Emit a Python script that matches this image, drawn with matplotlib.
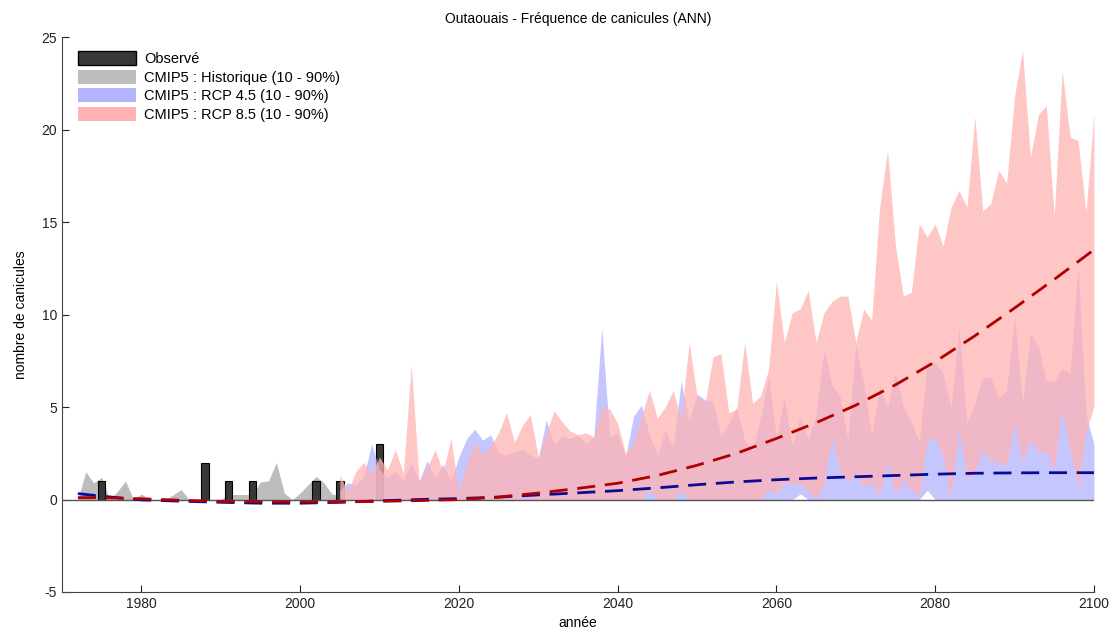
import numpy as np
import matplotlib.pyplot as plt
from matplotlib.patches import Patch

plt.rcParams['font.family'] = ['Liberation Sans', 'DejaVu Sans']
plt.rcParams['axes.unicode_minus'] = False

# -----------------------------
# data
# -----------------------------
obs_years = [1975, 1988, 1991, 1994, 2002, 2005, 2010]
obs_vals = [1, 2, 1, 1, 1, 1, 3]

hist_years = np.arange(1972, 2006)
hist_hi = [0, 1.5, 0.9, 1.2, 0, 0.45, 1.0, 0, 0.3, 0,
           0, 0, 0.25, 0.55, 0, 0, 0, 0, 0, 0.27,
           0.27, 0.27, 0.27, 0.95, 1.0, 2.0, 0.35, 0, 0.35, 0.8,
           1.25, 0.9, 0.3, 0.2]
hist_lo = [0] * len(hist_hi)

rcp_years = np.arange(2005, 2101)
rcp45_hi = [0.5, 0.9, 0.8, 1.2, 3.0, 1.6, 1.2, 1.5, 1.0, 2.0,
            1.0, 2.1, 1.2, 1.9, 1.0, 2.3, 3.3, 3.8, 3.2, 3.5,
            2.5, 2.4, 2.6, 2.7, 2.4, 2.2, 4.3, 3.0, 3.4, 3.3,
            3.5, 3.0, 3.4, 9.3, 3.4, 3.6, 2.3, 4.5, 5.1, 3.5,
            2.4, 3.8, 2.8, 6.4, 4.2, 5.7, 5.4, 5.3, 3.4, 4.1,
            5.0, 3.2, 2.6, 4.4, 6.7, 3.3, 5.5, 2.9, 4.5, 3.2,
            4.6, 8.1, 6.2, 5.6, 3.2, 8.4, 6.3, 3.5, 6.1, 5.0,
            6.9, 5.0, 4.2, 3.1, 7.4, 7.4, 6.8, 5.0, 9.3, 4.1,
            5.2, 6.6, 6.6, 5.5, 5.9, 9.9, 5.2, 9.0, 8.3, 6.4,
            6.4, 7.1, 6.8, 12.6, 4.6, 3.0]
rcp45_lo = [0] * 58 + [0.3] + [0] * 15 + [0.5] + [0] * 21

rcp85_hi = [1.35, 0.4, 1.5, 2.0, 1.4, 2.3, 1.6, 2.7, 1.4, 7.3,
            1.0, 1.7, 2.7, 1.5, 3.3, 0.4, 2.0, 3.1, 2.4, 2.9,
            3.6, 4.7, 3.1, 4.0, 4.6, 2.3, 3.6, 4.8, 4.2, 3.7,
            3.5, 3.6, 3.4, 5.0, 4.9, 4.1, 2.5, 3.0, 4.5, 5.9,
            4.4, 5.0, 5.9, 4.3, 8.5, 5.6, 5.2, 7.7, 7.9, 4.7,
            4.9, 8.5, 5.2, 5.6, 7.0, 11.8, 8.5, 10.1, 10.3, 11.3,
            8.5, 10.1, 10.7, 11.0, 11.0, 8.5, 10.3, 9.7, 15.8, 18.9,
            13.7, 11.0, 11.2, 14.9, 14.2, 14.9, 13.7, 15.8, 16.7, 15.8,
            20.7, 15.6, 16.0, 17.8, 17.1, 21.8, 24.3, 18.5, 20.8, 21.3,
            15.3, 23.2, 19.6, 19.4, 15.5, 20.9]
rcp85_lo = [0, 0, 0, 0, 0, 0, 0, 0, 0, 0,
            0, 0, 0, 0, 0, 0, 0, 0, 0, 0,
            0, 0, 0, 0, 0, 0, 0, 0, 0, 0,
            0, 0, 0, 0, 0, 0, 0, 0, 0, 0.5,
            0, 0, 0, 0.5, 0, 0, 0, 0, 0, 0,
            0, 0, 0, 0, 0.5, 0.3, 0.9, 0.8, 0.9, 0.4,
            0, 0.8, 3.4, 1.5, 1.0, 1.3, 0.7, 0.9, 0.2, 2.1,
            0.2, 1.1, 0.5, 0.2, 3.2, 3.3, 2.3, 0.1, 3.9, 1.1,
            1.5, 2.7, 2.0, 2.1, 1.8, 4.1, 2.0, 3.3, 2.5, 2.6,
            1.6, 4.9, 2.7, 0.6, 3.7, 5.0]

trend_years = [1972, 1975, 1980, 1985, 1990, 1995, 2000, 2005, 2010, 2015,
               2020, 2025, 2030, 2035, 2040, 2045, 2050, 2055, 2060, 2065,
               2070, 2075, 2080, 2085, 2090, 2095, 2100]
trend45 = [0.32, 0.18, -0.02, -0.09, -0.15, -0.2, -0.2, -0.15, -0.07, 0.0,
           0.05, 0.13, 0.25, 0.36, 0.48, 0.63, 0.8, 0.95, 1.07, 1.16,
           1.23, 1.3, 1.37, 1.42, 1.44, 1.45, 1.45]
trend85 = [0.1, 0.1, 0.04, -0.04, -0.1, -0.12, -0.13, -0.13, -0.1, -0.06,
           0.0, 0.13, 0.35, 0.6, 0.88, 1.3, 1.85, 2.5, 3.3, 4.15,
           5.1, 6.2, 7.45, 8.85, 10.35, 11.9, 13.5]

c_obs = '#383838'
c_hist = '#bdbdbd'
c_45 = '#b3b3ff'
c_85 = '#ffb3b3'

# -----------------------------
# plot
# -----------------------------
fig = plt.figure(figsize=(11.15, 6.32), dpi=100)
ax = fig.add_axes([0.0556, 0.0633, 0.9255, 0.878])

ax.fill_between(hist_years, hist_lo, hist_hi, color=c_hist, lw=0, zorder=1)
ax.bar(obs_years, obs_vals, width=0.95, color=c_obs, edgecolor='black',
       linewidth=0.8, zorder=2)
ax.fill_between(rcp_years, rcp45_lo, rcp45_hi, color=c_45, alpha=0.75, lw=0, zorder=3)
ax.fill_between(rcp_years, rcp85_lo, rcp85_hi, color=c_85, alpha=0.75, lw=0, zorder=4)

ax.axhline(0, color='#555555', lw=1, zorder=5)
ax.plot(trend_years, trend45, color='#0a0a96', lw=2, ls=(0, (6.5, 3.5)), zorder=6)
ax.plot(trend_years, trend85, color='#b00000', lw=2, ls=(0, (6.5, 3.5)), zorder=7)

ax.set_xlim(1970, 2100)
ax.set_ylim(-5, 25)
ax.set_xticks(range(1980, 2101, 20))
ax.set_yticks(range(-5, 26, 5))
ax.tick_params(direction='in', length=5, width=0.8, labelsize=10, colors='#222222')
for s in ['top', 'right']:
    ax.spines[s].set_visible(False)
for s in ['left', 'bottom']:
    ax.spines[s].set_color('#444444')

ax.set_title('Outaouais - Fréquence de canicules (ANN)', fontsize=10, pad=10)
ax.set_xlabel('année', fontsize=10, labelpad=4)
ax.set_ylabel('nombre de canicules', fontsize=10, labelpad=10)

handles = [
    Patch(facecolor=c_obs, edgecolor='black', label='Observé'),
    Patch(facecolor=c_hist, edgecolor='none', label='CMIP5 : Historique (10 - 90%)'),
    Patch(facecolor=c_45, edgecolor='none', label='CMIP5 : RCP 4.5 (10 - 90%)'),
    Patch(facecolor=c_85, edgecolor='none', label='CMIP5 : RCP 8.5 (10 - 90%)'),
]
ax.legend(handles=handles, loc='upper left', bbox_to_anchor=(0.01, 0.985),
          frameon=False, fontsize=10.5, handlelength=4.0, handleheight=1.1,
          labelspacing=0.25, handletextpad=0.5, borderaxespad=0)

fig.savefig('out.png', dpi=100)
